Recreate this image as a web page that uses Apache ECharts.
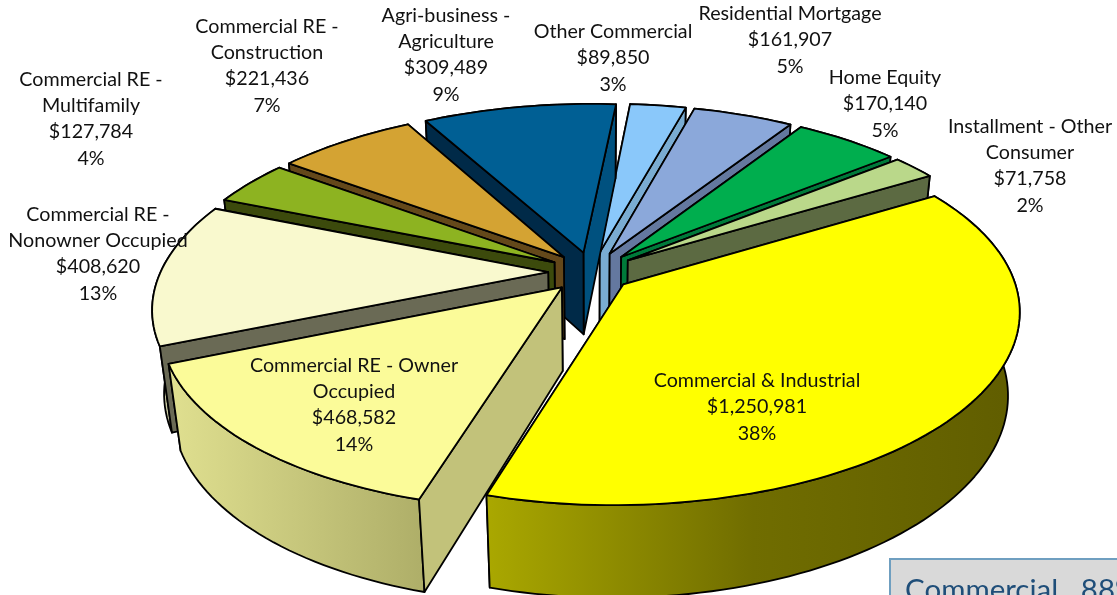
<!DOCTYPE html>
<html><head><meta charset="utf-8">
<style>html,body{margin:0;padding:0;background:#fff;overflow:hidden}#c{width:1117px;height:595px}</style>
<script src="https://cdn.jsdelivr.net/npm/echarts@6/dist/echarts.min.js"></script>
</head><body><div id="c"></div>
<script>
// ---- data ----
const categories = ['Commercial & Industrial','Commercial RE - Owner\nOccupied','Commercial RE -\nNonowner Occupied','Commercial RE -\nMultifamily','Commercial RE -\nConstruction','Agri-business -\nAgriculture','Other Commercial','Residential Mortgage','Home Equity','Installment - Other\nConsumer'];
const amounts = [1250981,468582,408620,127784,221436,309489,89850,161907,170140,71758];
const percents = [38,14,13,4,7,9,3,5,5,2];
// ---- styles ----
const topColors = ['#FFFF00','#FBFB99','#F9F9CE','#8DB321','#D4A333','#005F94','#8AC8FA','#8BA8DA','#00AE4E','#BAD88A'];
const startWallColors = ['#636000','#C2C27A','#6A6A55','#3C4A0C','#64481A','#002A48','#5A8AB0','#64789F','#007A3A','#5C6A42'];
const endWallColors = ['#636000','#808060','#6A6A55','#3C4A0C','#64481A','#00517F','#7AACD2','#64789F','#007A3A','#5C6A42'];
const rimStops = [
 [[0,'#AAA800'],[0.5,'#706D00'],[1,'#605D00']],
 [[0,'#E0E090'],[1,'#AEAE68']],
 [[0,'#E4E4B8'],[1,'#6A6A55']],[[0,'#3C4A0C'],[1,'#3C4A0C']],[[0,'#64481A'],[1,'#64481A']],[[0,'#002A48'],[1,'#002A48']],
 [[0,'#7AACD2'],[1,'#7AACD2']],[[0,'#64789F'],[1,'#64789F']],[[0,'#007A3A'],[1,'#007A3A']],[[0,'#5C6A42'],[1,'#5C6A42']]
];
// label anchors: centre x, centre y of text block
const labelAnchors = [[757,407],[354,405],[98,254],[91,119],[267,66],[446,55],[613,58],[790,40],[885,104],[1030,166]];
// per-slice horizontal nudge and extra skew of the exploded slice
const sliceNudge = [-3,0,0,0,0,0,0,0,0,0];
const sliceSkew = [6,0,0,0,0,0,0,0,0,0];
// ---- projection of the pie plane ----
const CX=592, CY=272, A=387.6, B=179.4, K=0.1666, DEPTH=85, SHRINK=0.027, EXPLODE=0.113, START=-31.5, SHEAR=8;
function project(u,v,z,extra){const w=1-K*v+SHRINK*z;return [CX+A*u/w-(SHEAR+extra)*v/w, CY+(B*v+DEPTH*z)/w];}
const total=amounts.reduce((a,b)=>a+b,0);
const spans=[];let acc=START;
amounts.forEach(a=>{const s=a/total*360;spans.push([acc,acc+s]);acc+=s;});
const rad=d=>d*Math.PI/180;
const depthOrder=amounts.map((a,i)=>i).sort((p,q)=>{
  const m=i=>Math.sin(rad((spans[i][0]+spans[i][1])/2));return m(p)-m(q);});
const edge={stroke:'#000',lineWidth:1.8,lineJoin:'round'};
function renderSlice(params,api){
  const i=api.value(0);
  const [a0,a1]=spans[i], mid=rad((a0+a1)/2);
  const ou=EXPLODE*Math.cos(mid), ov=EXPLODE*Math.sin(mid), dx=sliceNudge[i];
  const pr=(u,v,z)=>{const p=project(u,v,z,sliceSkew[i]);return [p[0]+dx,p[1]];};
  const arc=z=>{const p=[];const n=Math.max(4,Math.ceil((a1-a0)/1.5));
    for(let j=0;j<=n;j++){const t=rad(a0+(a1-a0)*j/n);p.push(pr(ou+Math.cos(t),ov+Math.sin(t),z));}return p;};
  const apex0=pr(ou,ov,0), apex1=pr(ou,ov,1);
  const top=arc(0), bot=arc(1);
  const rimFill=new echarts.graphic.LinearGradient(0,0,1,0,rimStops[i].map(s=>({offset:s[0],color:s[1]})));
  const wallA={type:'polygon',shape:{points:[apex0,top[0],bot[0],apex1]},style:Object.assign({fill:startWallColors[i]},edge)};
  const wallB={type:'polygon',shape:{points:[apex0,top[top.length-1],bot[bot.length-1],apex1]},style:Object.assign({fill:endWallColors[i]},edge)};
  const faces=n=>Math.cos(rad(n))*(0-ou)+Math.sin(rad(n))*(1/K-ov)>0;
  const front=[],back=[];
  (faces(a0-90)?front:back).push(wallA);
  (faces(a1+90)?front:back).push(wallB);
  if(front.length===2&&Math.sin(rad(a0))>Math.sin(rad(a1)))front.reverse();
  return {type:'group',children:back.concat([
    {type:'polygon',shape:{points:top.concat(bot.slice().reverse())},style:Object.assign({fill:rimFill},edge)}
  ],front,[
    {type:'polygon',shape:{points:[apex0].concat(top)},style:Object.assign({fill:topColors[i]},edge)}
  ])};
}
function renderLabel(params,api){
  const i=api.value(0);
  const txt=categories[i]+'\n$'+amounts[i].toLocaleString('en-US')+'\n'+percents[i]+'%';
  return {type:'text',x:labelAnchors[i][0],y:labelAnchors[i][1],
    style:{text:txt,fill:'#111',font:'19.7px Lato',align:'center',verticalAlign:'middle',lineHeight:26.2}};
}
const chart=echarts.init(document.getElementById('c'),null,{renderer:'canvas'});
chart.setOption({
  animation:false,backgroundColor:'#fff',
  series:[
    {type:'custom',coordinateSystem:'none',silent:true,z:2,renderItem:renderSlice,data:depthOrder.map(i=>[i])},
    {type:'custom',coordinateSystem:'none',silent:true,z:3,renderItem:renderLabel,data:categories.map((c,i)=>[i])}
  ],
  graphic:[
    {type:'rect',z:5,shape:{x:890,y:559,width:240,height:60},style:{fill:'#D9D9D9',stroke:'#6F9FC0',lineWidth:2}},
    {type:'text',z:6,x:905,y:575,style:{text:'Commercial   88%',font:'29.5px Lato',fill:'#1F4E79'}}
  ]
});
</script></body></html>
